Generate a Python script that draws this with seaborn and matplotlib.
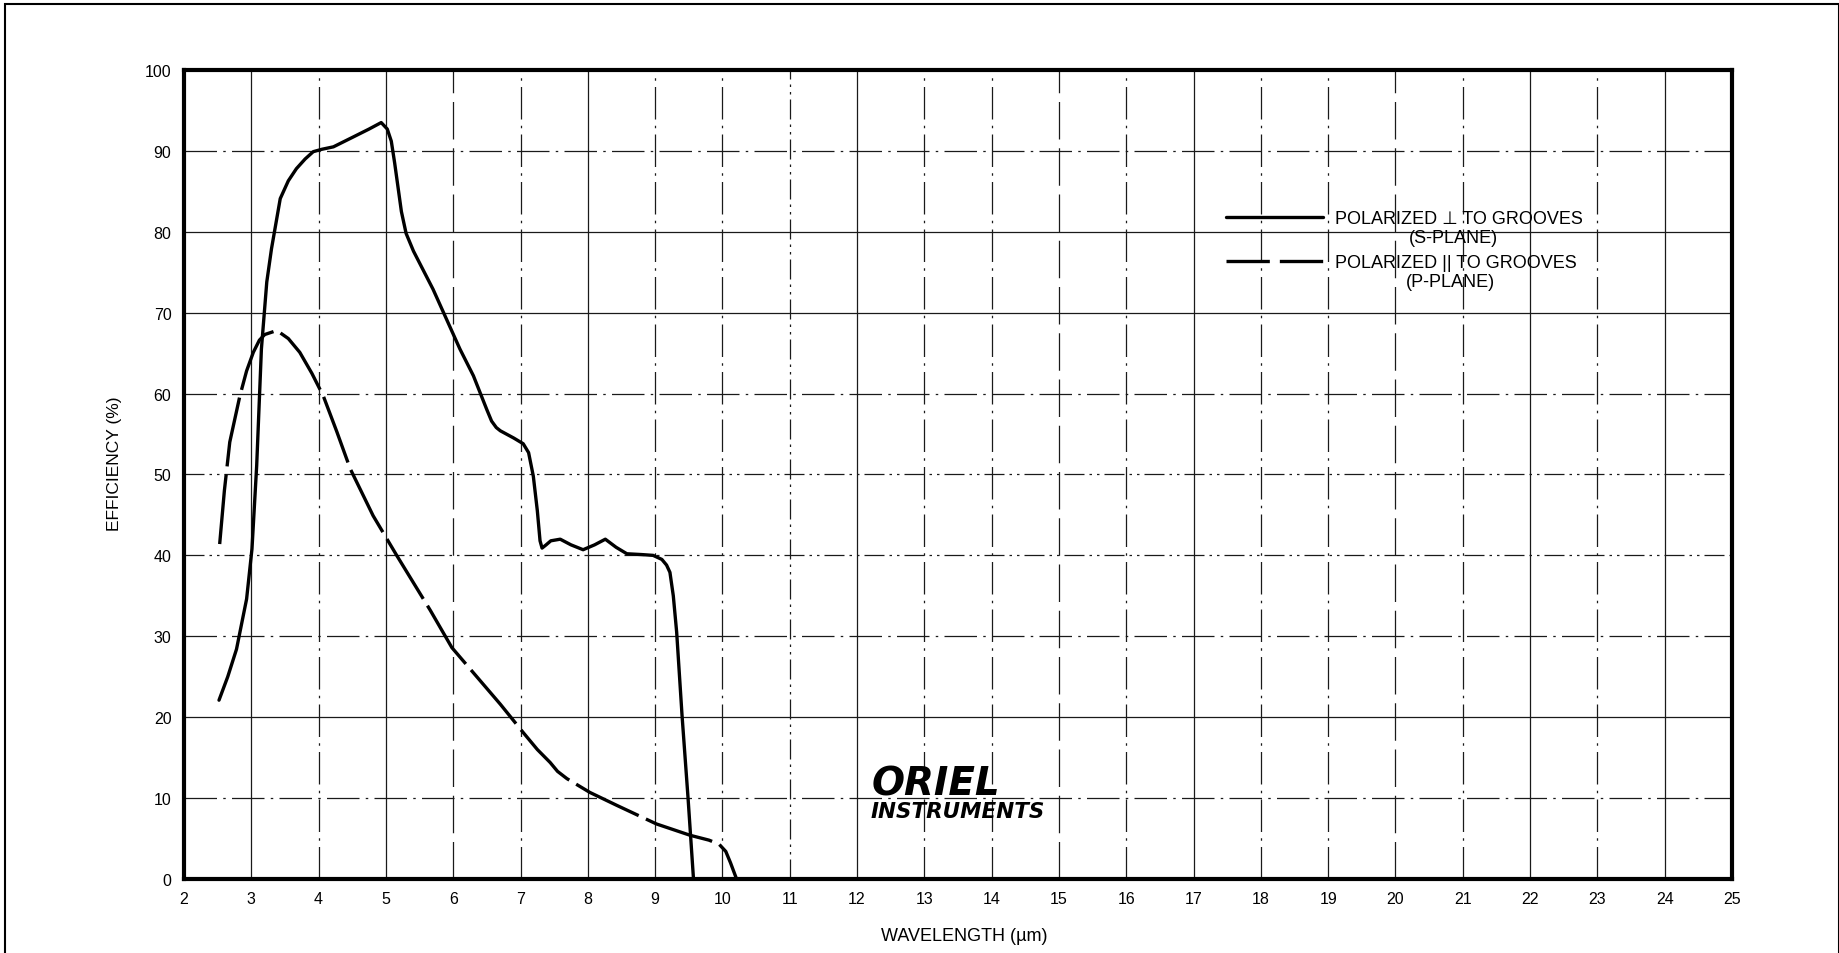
import matplotlib
matplotlib.use("Agg")
import matplotlib.pyplot as plt
import seaborn as sns
import pandas as pd
from matplotlib.lines import Line2D
from matplotlib.patches import Rectangle

# ---------------- data ----------------
s_wavelength = [2.52, 2.65, 2.78, 2.93, 3.01, 3.08, 3.15, 3.23, 3.30, 3.43, 3.55, 3.67,
                3.80, 3.92, 4.05, 4.22, 4.51, 4.75, 4.93, 5.02, 5.08, 5.13, 5.18, 5.23,
                5.30, 5.41, 5.70, 6.10, 6.30, 6.50, 6.57, 6.64, 6.70, 6.90, 7.04, 7.12,
                7.19, 7.25, 7.29, 7.32, 7.38, 7.45, 7.59, 7.75, 7.93, 8.10, 8.26, 8.42,
                8.58, 8.80, 8.97, 9.10, 9.17, 9.22, 9.27, 9.32, 9.40, 9.49, 9.57]
s_efficiency = [22.1, 25.0, 28.4, 34.6, 40.8, 51.1, 65.5, 73.8, 77.9, 84.1, 86.3, 87.8,
                89.0, 89.9, 90.2, 90.5, 91.7, 92.7, 93.5, 92.7, 91.2, 88.5, 85.5, 82.5,
                79.8, 77.6, 72.9, 65.5, 62.2, 58.0, 56.6, 55.8, 55.4, 54.5, 53.8, 52.7,
                49.8, 45.5, 41.8, 40.9, 41.3, 41.8, 42.0, 41.3, 40.7, 41.3, 42.0, 41.0,
                40.2, 40.1, 40.0, 39.5, 38.8, 37.9, 35.0, 30.5, 20.2, 9.9, 0.0]

p_wavelength = [2.53, 2.60, 2.68, 2.83, 2.93, 3.03, 3.12, 3.20, 3.38, 3.55, 3.72, 3.90,
                4.07, 4.27, 4.47, 4.81, 5.16, 5.66, 5.98, 6.35, 6.70, 7.04, 7.25, 7.44,
                7.55, 7.69, 8.03, 8.43, 9.02, 9.52, 9.80, 9.95, 10.05, 10.12, 10.21]
p_efficiency = [41.4, 48.0, 54.0, 59.7, 62.8, 65.1, 66.6, 67.3, 67.8, 66.8, 65.1, 62.5,
                59.7, 55.3, 50.7, 44.9, 40.0, 33.2, 28.6, 25.0, 21.6, 18.1, 16.0, 14.4,
                13.3, 12.4, 10.7, 9.1, 6.8, 5.4, 4.8, 4.3, 3.4, 2.0, 0.0]

x_ticks = list(range(2, 26))
y_ticks = list(range(0, 101, 10))

s_label = "POLARIZED \u22a5 TO GROOVES"
s_sub = "(S-PLANE)"
p_label = "POLARIZED || TO GROOVES"
p_sub = "(P-PLANE)"
x_title = "WAVELENGTH (\u00b5m)"
y_title = "EFFICIENCY (%)"
logo_top = "ORIEL"
logo_bottom = "INSTRUMENTS"

# grid line styles (style only)
SOLID = "-"
DASHDOT = (0, (26, 5, 2, 5))
DASHDOTDOT = (0, (16, 4, 2, 4, 2, 4))
DASHED = (0, (30, 7))
v_grid_styles = [SOLID, DASHDOT, SOLID, DASHED, DASHDOT, SOLID, DASHDOT, DASHDOT,
                 DASHDOTDOT, SOLID, DASHDOT, DASHDOT, DASHED, DASHDOT, SOLID, DASHDOT,
                 DASHDOT, DASHED, DASHDOT, SOLID, DASHDOT, SOLID]
h_grid_styles = [DASHDOT, SOLID, DASHDOT, DASHDOTDOT, DASHDOTDOT, DASHDOT, SOLID,
                 SOLID, DASHDOT]

# ---------------- figure ----------------
sns.set_theme(style="white")
plt.rcParams["font.family"] = ["Liberation Sans", "DejaVu Sans"]

fig = plt.figure(figsize=(18.4, 9.54), dpi=100)
ax = fig.add_axes([0.1, 0.0776, 0.8413, 0.848])

# grid
for xv, ls in zip(x_ticks[1:-1], v_grid_styles):
    ax.axvline(xv, color="#1a1a1a", lw=0.9, linestyle=ls, zorder=1)
for yv, ls in zip(y_ticks[1:-1], h_grid_styles):
    ax.axhline(yv, color="#1a1a1a", lw=0.9, linestyle=ls, zorder=1)

s_df = pd.DataFrame({"wavelength": s_wavelength, "efficiency": s_efficiency})
p_df = pd.DataFrame({"wavelength": p_wavelength, "efficiency": p_efficiency})

sns.lineplot(data=s_df, x="wavelength", y="efficiency", ax=ax, color="black",
             lw=2.4, estimator=None, sort=False, zorder=3)
sns.lineplot(data=p_df, x="wavelength", y="efficiency", ax=ax, color="black",
             lw=2.4, estimator=None, sort=False, zorder=3,
             linestyle=(0, (21, 2.4)))

ax.set_xlim(2, 25)
ax.set_ylim(0, 100)
ax.set_xticks(x_ticks)
ax.set_yticks(y_ticks)
ax.tick_params(axis="both", length=0, labelsize=11.5, colors="black")
ax.tick_params(axis="y", pad=9)
ax.tick_params(axis="x", pad=9)
for sp in ax.spines.values():
    sp.set_visible(True)
    sp.set_color("black")
    sp.set_linewidth(3.0)

ax.set_xlabel(x_title, fontsize=13, color="black")
ax.set_ylabel(y_title, fontsize=12.5, color="black")
ax.xaxis.set_label_coords(0.504, -0.059)
ax.yaxis.set_label_coords(-0.040, 0.515)

# legend
h_s = Line2D([], [], color="black", lw=2.4)
h_p = Line2D([], [], color="black", lw=2.4, linestyle=(0, (13, 3)))
leg = ax.legend([h_s, h_p], [s_label, p_label], loc="upper left",
                bbox_to_anchor=(0.673, 0.827), frameon=False, fontsize=13,
                handlelength=5.4, handletextpad=0.64, labelspacing=1.52,
                borderpad=0, borderaxespad=0)
for t in leg.get_texts():
    t.set_color("black")

# logo
ax.text(12.22, 11.8, logo_top, fontsize=28, fontweight="heavy", fontstyle="italic",
        family="DejaVu Sans", va="center", ha="left", color="black", zorder=4)
ax.text(12.20, 8.4, logo_bottom, fontsize=15.5, fontweight="heavy", fontstyle="italic",
        family="DejaVu Sans", va="center", ha="left", color="black", zorder=4)

# outer frame of the figure
fig.add_artist(Rectangle((0.0027, -0.01), 0.9968, 1.0048, transform=fig.transFigure,
                         fill=False, lw=1.5, edgecolor="black"))

# lay out the legend once so the sub-labels can hang under its texts
fig.canvas.draw()
for t, sub in zip(leg.get_texts(), [s_sub, p_sub]):
    ax.annotate(sub, xy=(0.48, 0.0), xycoords=t, xytext=(0, -1.2),
                textcoords="offset points", ha="center", va="top", fontsize=13,
                color="black", annotation_clip=False)

fig.savefig("out.png", dpi=100, facecolor="white")
